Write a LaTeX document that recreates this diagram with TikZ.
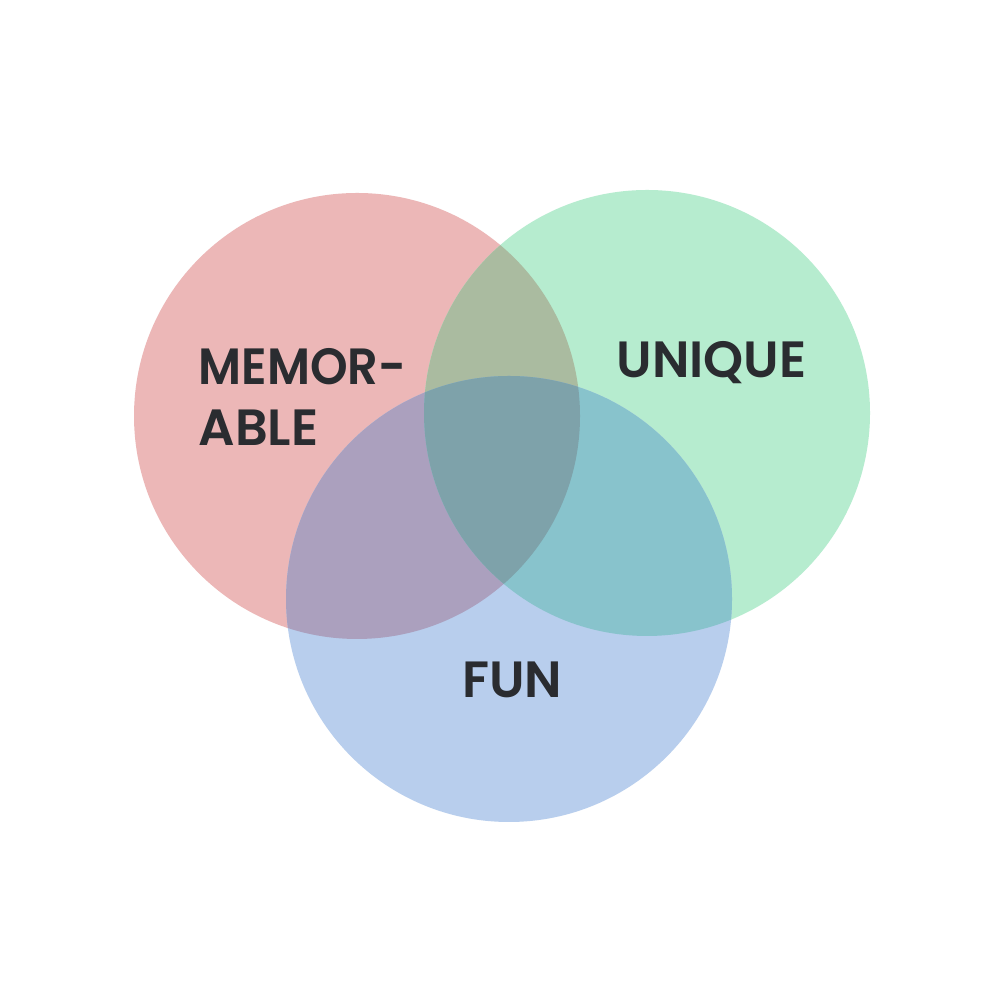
\documentclass[tikz,border=0pt]{standalone}
\usepackage{fontspec}
\setmainfont{Poppins}[BoldFont={Poppins SemiBold}]
\definecolor{memred}{HTML}{ECB7B7}
\definecolor{unigreen}{HTML}{B6ECCF}
\definecolor{funblue}{HTML}{B8CEED}
\definecolor{redgreen}{HTML}{AABBA0}
\definecolor{redblue}{HTML}{ABA0BE}
\definecolor{greenblue}{HTML}{88C3CC}
\definecolor{allthree}{HTML}{7EA2AA}
\definecolor{ink}{HTML}{2A2C30}
\tikzset{
  word/.style={inner sep=0pt,text=ink,font=\bfseries\fontsize{14.5}{17}\selectfont}
}
\begin{document}
\begin{tikzpicture}
    \useasboundingbox[fill=white] (0,0) rectangle (10,10);
    % ---- the three sets ----
    \coordinate (mem) at (3.57,5.84);
    \coordinate (uni) at (6.47,5.87);
    \coordinate (fun) at (5.09,4.01);
    \fill[memred] (mem) circle (2.23);
    \fill[unigreen] (uni) circle (2.23);
    \fill[funblue] (fun) circle (2.23);
    % ---- overlaps ----
    \begin{scope}
      \clip (mem) circle (2.23);
      \fill[redgreen] (uni) circle (2.23);
      \fill[redblue] (fun) circle (2.23);
    \end{scope}
    \begin{scope}
      \clip (uni) circle (2.23);
      \fill[greenblue] (fun) circle (2.23);
      \clip (mem) circle (2.23);
      \fill[allthree] (fun) circle (2.23);
    \end{scope}
    % ---- labels ----
    \node[word,anchor=base west,xscale=0.94] (memor) at (1.98,6.15) {MEMOR-};
    \node[word,anchor=base west] (able) at (1.98,5.54) {ABLE};
    \node[word,anchor=base] (unique) at (7.115,6.22) {UNIQUE};
    \node[word,anchor=base] (funlbl) at (5.12,3.02) {FUN};
\end{tikzpicture}
\end{document}
